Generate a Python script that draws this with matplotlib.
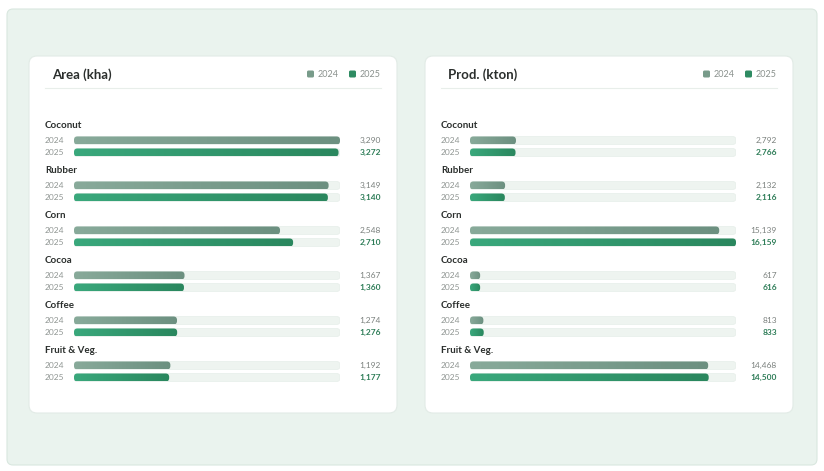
import matplotlib
matplotlib.use("Agg")
import matplotlib.pyplot as plt
import numpy as np
from matplotlib.patches import FancyBboxPatch
import matplotlib.colors as mcolors

plt.rcParams['font.family'] = ['Lato', 'DejaVu Sans']

categories = ["Coconut", "Rubber", "Corn", "Cocoa", "Coffee", "Fruit & Veg."]
years = ["2024", "2025"]
area_2024 = [3290, 3149, 2548, 1367, 1274, 1192]
area_2025 = [3272, 3140, 2710, 1360, 1276, 1177]
prod_2024 = [2792, 2132, 15139, 617, 813, 14468]
prod_2025 = [2766, 2116, 16159, 616, 833, 14500]
panels = [("Area (kha)", area_2024, area_2025), ("Prod. (kton)", prod_2024, prod_2025)]

W, H = 824, 471
fig = plt.figure(figsize=(W / 100, H / 100), dpi=100)
fig.patch.set_facecolor("white")

# background axes in pixel coords
bg = fig.add_axes([0, 0, 1, 1])
bg.set_xlim(0, W)
bg.set_ylim(H, 0)
bg.axis("off")

bg.add_patch(FancyBboxPatch((7, 9), 810, 456, boxstyle="round,pad=0,rounding_size=6",
                            fc="#eaf3ee", ec="#d9e7df", lw=0.8))

C24 = "#789b8a"
C25 = "#2e8b62"
grad24 = mcolors.LinearSegmentedColormap.from_list("g24", ["#88aa9a", "#6c9080"])
grad25 = mcolors.LinearSegmentedColormap.from_list("g25", ["#3aa87c", "#2a875e"])

dx_card = 396
for p, (title, v24, v25) in enumerate(panels):
    ox = p * dx_card
    # card
    bg.add_patch(FancyBboxPatch((29 + ox, 56), 368, 357, boxstyle="round,pad=0,rounding_size=8",
                                fc="white", ec="#e2ebe6", lw=0.8))
    bg.text(52 + ox, 74.5, title, fontsize=9.5, fontweight="bold", color="#2b2f2d", va="center", ha="left")
    bg.plot([45 + ox, 381 + ox], [88, 88], color="#e8eeea", lw=0.8)
    # legend
    for k, (yr, c) in enumerate(zip(years, [C24, C25])):
        lx = 307 + ox + k * 42
        bg.add_patch(FancyBboxPatch((lx, 70.5), 7, 7, boxstyle="round,pad=0,rounding_size=1.5", fc=c, ec="none"))
        bg.text(lx + 11, 74.5, yr, fontsize=6.5, color="#8a918d", va="center", ha="left")

    # bar axes
    left_px, right_px = 74 + ox, 340 + ox
    top_px, bot_px = 110, 400
    ax = fig.add_axes([left_px / W, 1 - bot_px / H, (right_px - left_px) / W, (bot_px - top_px) / H])
    ax.axis("off")
    vmax = max(max(v24), max(v25))
    ax.set_xlim(0, vmax)
    y_top = (top_px - 125.5) / 45
    y_bot = (bot_px - 125.5) / 45
    ax.set_ylim(y_bot, y_top)
    xu_per_px = vmax / (right_px - left_px)
    yu_per_px = (y_bot - y_top) / (bot_px - top_px)
    aspect = yu_per_px / xu_per_px
    r = 3.5 * xu_per_px
    bh = 8 * yu_per_px
    fx = -(left_px - (45 + ox)) / (right_px - left_px)
    fv = ((381 + ox) - left_px) / (right_px - left_px)
    for i, cat in enumerate(categories):
        ax.text(fx, i, cat, transform=ax.get_yaxis_transform(), fontsize=7, fontweight="bold",
                color="#2b2f2d", va="center", ha="left")
        for j, (vals, cmap, vc, fw) in enumerate([(v24, grad24, "#7a807d", "normal"),
                                                  (v25, grad25, "#2e7d58", "bold")]):
            yc = i + (0.333 if j == 0 else 0.6)
            y0 = yc - bh / 2
            track = FancyBboxPatch((0, y0), vmax, bh, boxstyle=f"round,pad=0,rounding_size={r}",
                                   mutation_aspect=aspect, fc="#eef4f0", ec="#e6eee9", lw=0.5)
            ax.add_patch(track)
            v = vals[i]
            bar = FancyBboxPatch((0, y0), v, bh, boxstyle=f"round,pad=0,rounding_size={r}",
                                 mutation_aspect=aspect, fc="none", ec="none")
            ax.add_patch(bar)
            im = ax.imshow(np.linspace(0, 1, 64).reshape(1, -1), cmap=cmap, aspect="auto",
                           extent=[0, v, y0 + bh, y0], interpolation="bilinear", zorder=3)
            im.set_clip_path(bar)
            ax.text(fx, yc, years[j], transform=ax.get_yaxis_transform(), fontsize=6,
                    color="#8f9592", va="center", ha="left")
            ax.text(fv, yc, f"{v:,}", transform=ax.get_yaxis_transform(), fontsize=6,
                    color=vc, fontweight=fw, va="center", ha="right")
    ax.set_xlim(0, vmax)
    ax.set_ylim(y_bot, y_top)

fig.savefig("out.png", dpi=100, facecolor=fig.get_facecolor())
